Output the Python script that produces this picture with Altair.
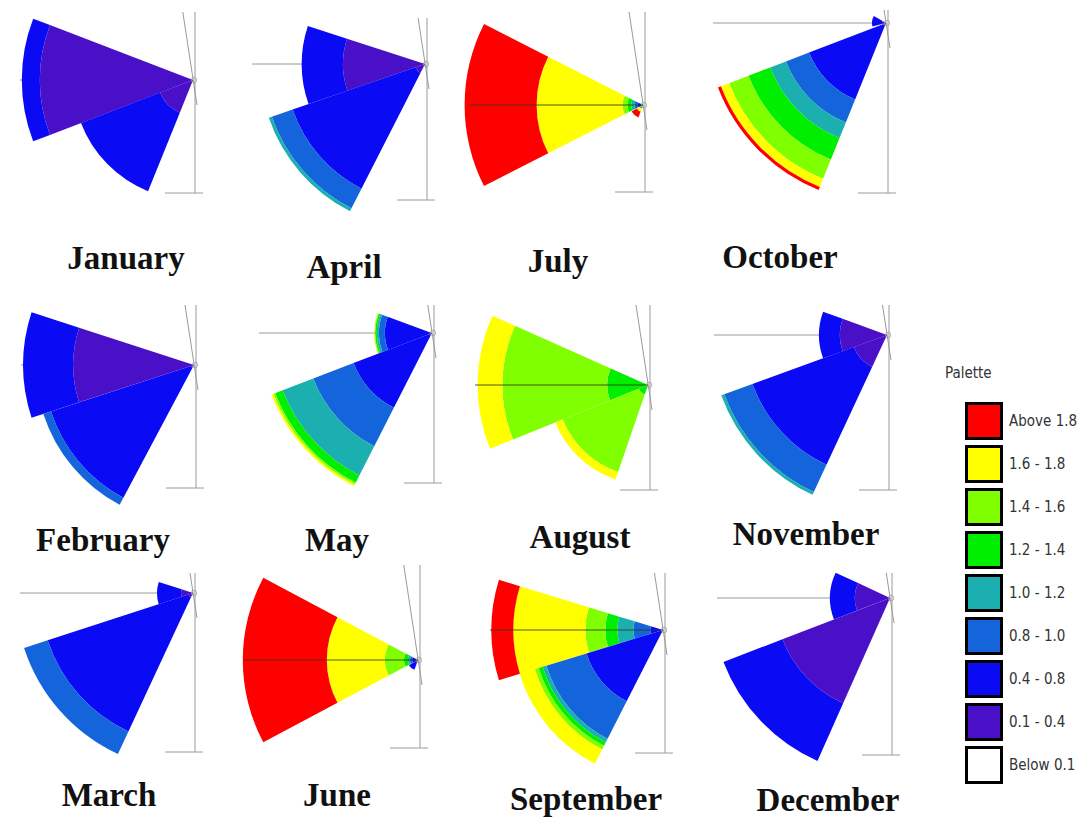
import altair as alt
import pandas as pd

# ---------------- data ----------------
# height classes (legend order, top to bottom)
CLASSES = ["Above 1.8", "1.6 - 1.8", "1.4 - 1.6", "1.2 - 1.4", "1.0 - 1.2",
           "0.8 - 1.0", "0.4 - 0.8", "0.1 - 0.4", "Below 0.1"]
COLORS = ["#FF0000", "#FFFF00", "#80FF00", "#00EE00", "#1CAFB0",
          "#1464DC", "#0A0AF5", "#4A10C8", "#FFFFFF"]
# order in which classes are stacked from the centre outward
STACK = ["0.1 - 0.4", "0.4 - 0.8", "0.8 - 1.0", "1.0 - 1.2",
         "1.2 - 1.4", "1.4 - 1.6", "1.6 - 1.8", "Above 1.8"]

MONTHS = ["January", "February", "March", "April", "May", "June",
          "July", "August", "September", "October", "November", "December"]

# sectors: (from angle, to angle [deg, clockwise from north], frequency % per class in STACK order)
january = [(249, 291, [38.3, 4.5]), (202, 249, [8.8, 21.2])]
february = [(252, 288, [30.2, 12.5]), (208, 252, [0.8, 36.8, 2.0])]
march = [(252, 288, [3.0, 6.0]), (205, 252, [1.2, 37.0, 6.2])]
april = [(251, 288, [20.5, 10.3]), (207, 251, [2.5, 32.5, 5.5, 0.8])]
may = [(249, 290, [0.8, 11.0, 1.5, 0.5, 0.4, 0.2, 0.1]),
       (207, 249, [0.8, 20.2, 10.8, 8.2, 2.0, 0.5, 0.5])]
june = [(242, 298, [0.5, 1.0, 0.5, 0.5, 1.0, 4.8, 14.5, 21.0]),
        (200, 240, [0.8, 1.8])]
july = [(243, 297, [0.5, 0.8, 0.8, 0.8, 1.0, 1.2, 21.5, 18.0]),
        (200, 240, [0, 0, 0, 0, 1.0, 0, 0.8, 1.5])]
august = [(248, 294, [0, 0, 0, 0, 10.2, 26.2, 6.2]),
          (199, 248, [0, 0, 0, 0, 2.5, 20.5, 2.0])]
september = [(253, 287, [0, 3.2, 4.2, 4.0, 3.0, 5.0, 18.0, 5.5]),
             (207, 253, [0, 20.0, 10.5, 1.0, 1.0, 1.0, 4.0])]
october = [(202, 249, [0.8, 19.8, 6.2, 4.2, 5.8, 5.2, 2.2, 0.8]),
           (255, 300, [1.0, 2.5])]
november = [(250, 290, [11.8, 5.2]), (205, 250, [8.8, 27.0, 7.5, 0.8])]
december = [(249, 295, [8.8, 6.2]), (204, 249, [28.8, 15.8])]

SECTORS = {"January": january, "February": february, "March": march,
           "April": april, "May": may, "June": june, "July": july,
           "August": august, "September": september, "October": october,
           "November": november, "December": december}

# ---------------- layout (page pixels) ----------------
OFF = 8
# apex x, apex y, frame top, frame bottom
PANEL = {
    "January": (193, 80, 12, 193), "April": (425, 64, 18, 200),
    "July": (643, 105, 12, 192), "October": (886, 23, 10, 193),
    "February": (194, 365, 305, 488), "May": (432, 333, 305, 483),
    "August": (648, 385, 305, 490), "November": (887, 335, 305, 490),
    "March": (193, 593, 573, 752), "June": (418, 660, 565, 748),
    "September": (663, 630, 573, 753), "December": (890, 598, 573, 755),
}
LABEL = {
    "January": (126, 259), "April": (344, 268), "July": (558, 262), "October": (780, 258),
    "February": (103, 541), "May": (337, 541), "August": (580, 538), "November": (806, 535),
    "March": (109, 796), "June": (337, 796), "September": (586, 800), "December": (828, 801),
}
AXIS_ON_TOP = ["June", "July", "August", "September"]
AXIS_LEN = 173

THETA_SCALE = alt.Scale(domain=[0, 360], range=[0, 6.283185307179586])
R_SCALE = alt.Scale(type="linear", domain=[0, 50], range=[0, 200], zero=True)
COLOR = alt.Color(
    "cls:N",
    scale=alt.Scale(domain=CLASSES, range=COLORS),
    legend=alt.Legend(
        title=None, orient="none", legendX=965 - OFF, legendY=402 - OFF,
        symbolType="square", symbolSize=1225, symbolStrokeColor="black",
        symbolStrokeWidth=3, symbolOpacity=1, labelFontSize=15,
        labelFont="Liberation Sans Narrow, Arial Narrow, DejaVu Sans Condensed, sans-serif",
        labelColor="#333333", rowPadding=-6, labelOffset=6, symbolLimit=0,
    ),
)

# ---------- decorations ----------
under_rows, over_rows, centres = [], [], []
for m, (ax, ay, top, bot) in PANEL.items():
    fx = ax + 2
    frame = [
        (fx, fx, top, bot),                                   # vertical frame line
        (fx - 30, fx + 8, bot, bot),                          # scale bar
        (ax - 0.15 * (ay - top), ax + 4, top, ay + 25),       # north line
    ]
    for x, x2, y, y2 in frame:
        under_rows.append(dict(x=x - OFF, x2=x2 - OFF, y=y - OFF, y2=y2 - OFF))
    hor = dict(x=ax - AXIS_LEN - OFF, x2=ax - OFF, y=ay - OFF, y2=ay - OFF)
    if m in AXIS_ON_TOP:
        over_rows.append(hor)
    else:
        under_rows.append(hor)
    centres.append(dict(x=ax + 1 - OFF, y=ay - OFF))

under = alt.Chart(pd.DataFrame(under_rows)).mark_rule(
    color="#9a9a9a", strokeWidth=1
).encode(
    x=alt.X("x:Q", scale=None, axis=None), x2="x2:Q",
    y=alt.Y("y:Q", scale=None, axis=None), y2="y2:Q",
)
over = alt.Chart(pd.DataFrame(over_rows)).mark_rule(
    color="#3a3a1a", strokeWidth=1.2, opacity=0.85
).encode(
    x=alt.X("x:Q", scale=None, axis=None), x2="x2:Q",
    y=alt.Y("y:Q", scale=None, axis=None), y2="y2:Q",
)
centre_pts = alt.Chart(pd.DataFrame(centres)).mark_point(
    shape="circle", size=30, filled=False, color="#9a9a9a", strokeWidth=1
).encode(
    x=alt.X("x:Q", scale=None, axis=None), y=alt.Y("y:Q", scale=None, axis=None),
)

# ---------- arcs ----------
arc_layers = []
for m in MONTHS:
    rows = []
    for t0, t1, freqs in SECTORS[m]:
        r = 0.0
        for cls, f in zip(STACK, freqs):
            if f > 0:
                rows.append(dict(month=m, cls=cls, t0=t0, t1=t1, r0=r, r1=r + f))
                r += f
    ax, ay, _, _ = PANEL[m]
    arc_layers.append(
        alt.Chart(pd.DataFrame(rows)).mark_arc(strokeWidth=0).encode(
            theta=alt.Theta("t0:Q", scale=THETA_SCALE, stack=None),
            theta2="t1:Q",
            radius=alt.Radius("r1:Q", scale=R_SCALE),
            radius2="r0:Q",
            color=COLOR,
            x=alt.value(ax - OFF), y=alt.value(ay - OFF),
        )
    )

# ---------- month labels ----------
lab_df = pd.DataFrame([dict(month=m, x=LABEL[m][0] - OFF, y=LABEL[m][1] - OFF) for m in MONTHS])
labels = alt.Chart(lab_df).mark_text(
    font="Liberation Serif, Times New Roman, serif", fontWeight="bold",
    fontSize=33, align="center", baseline="middle", color="#111111",
).encode(
    x=alt.X("x:Q", scale=None, axis=None), y=alt.Y("y:Q", scale=None, axis=None),
    text="month:N",
)

palette = alt.Chart(pd.DataFrame([dict(x=945 - OFF, y=373 - OFF, t="Palette")])).mark_text(
    font="Liberation Sans Narrow, Arial Narrow, DejaVu Sans Condensed, sans-serif",
    fontSize=15, align="left", baseline="middle", color="#333333",
).encode(
    x=alt.X("x:Q", scale=None, axis=None), y=alt.Y("y:Q", scale=None, axis=None),
    text="t:N",
)

chart = alt.layer(under, *arc_layers, over, centre_pts, labels, palette).properties(
    width=1070, height=809, padding=0,
    autosize=alt.AutoSizeParams(type="none"),
).configure(background="white").configure_view(stroke=None)

chart.save("out.html", embed_options={"renderer": "svg", "actions": False})
